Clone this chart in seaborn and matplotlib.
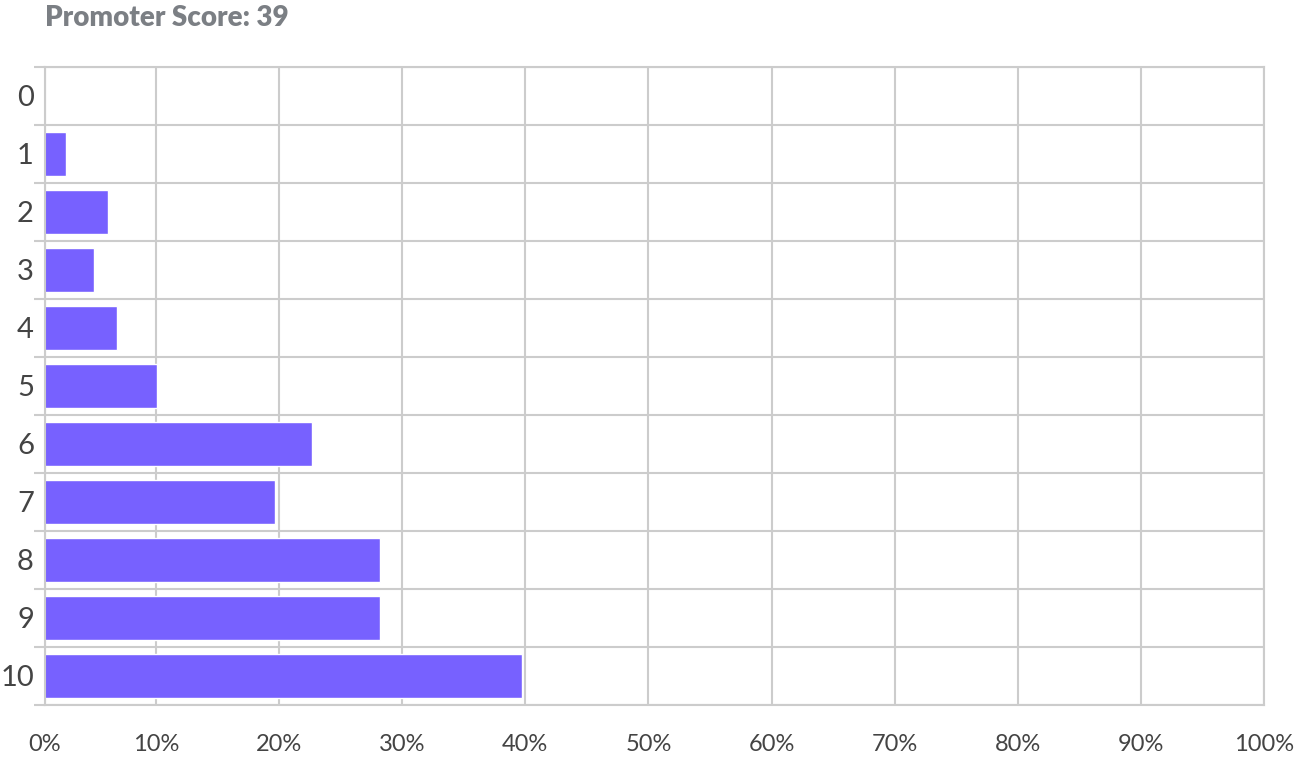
import numpy as np
import pandas as pd
import matplotlib
matplotlib.use("Agg")
import matplotlib.pyplot as plt
import seaborn as sns
from matplotlib.ticker import FixedLocator

# Share of respondents per score (in %)
scores = ["0", "1", "2", "3", "4", "5", "6", "7", "8", "9", "10"]
share = [0.0, 2.65, 6.1, 5.0, 6.85, 10.1, 22.7, 19.7, 28.2, 28.2, 39.7]
x_ticks = [10, 20, 30, 40, 50, 60, 70, 80, 90, 100]
title_text = "Promoter Score: 39"

# the source chart draws its y axis slightly to the right of x=0
X_START = 0.98

BAR = "#7761ff"
GRID = "#cccccc"
TEXT = "#444444"

sns.set_theme(style="white")
plt.rcParams["font.family"] = ["Lato", "DejaVu Sans"]

df = pd.DataFrame({"score": scores, "share": share})

fig = plt.figure(figsize=(13.02, 7.66), dpi=100)
ax = fig.add_axes([45 / 1302, 1 - 705 / 766, (1264 - 45) / 1302, (705 - 67) / 766])

sns.barplot(data=df, x="share", y="score", orient="h", color=BAR,
            saturation=1, width=0.76, ax=ax)

ax.set_xlim(X_START, 100)
ax.set_ylim(10.5, -0.5)
ax.set_xticks([X_START] + x_ticks, labels=["0%"] + [f"{t}%" for t in x_ticks])
ax.yaxis.set_minor_locator(FixedLocator(np.arange(-0.5, 11, 1)))

# grid: vertical at x ticks, horizontal between rows
ax.grid(axis="x", which="major", color=GRID, linewidth=1.5)
ax.grid(axis="y", which="minor", color=GRID, linewidth=1.5)
ax.grid(axis="y", which="major", visible=False)
ax.set_axisbelow(True)

for side in ["left", "bottom", "top", "right"]:
    ax.spines[side].set_color(GRID)
    ax.spines[side].set_linewidth(1.5)

ax.tick_params(axis="y", which="major", length=0, pad=8, labelsize=21, labelcolor=TEXT)
ax.tick_params(axis="y", which="minor", length=8, width=1.5, color=GRID, left=True)
ax.tick_params(axis="x", which="major", length=0, pad=21, labelsize=17, labelcolor=TEXT)

ax.set_xlabel("")
ax.set_ylabel("")

fig.text(45 / 1302, 1 - 18 / 766, title_text, fontsize=20, fontweight="heavy",
         color="#7b7f84", ha="left", va="center")

fig.savefig("out.png", dpi=100)
